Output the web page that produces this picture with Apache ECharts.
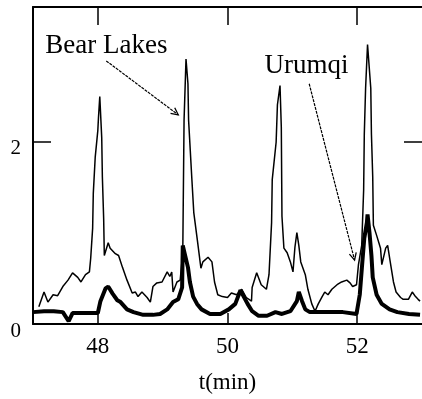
<!DOCTYPE html>
<html>
<head>
<meta charset="utf-8">
<script src="https://cdn.jsdelivr.net/npm/echarts@6/dist/echarts.min.js"></script>
<style>
  html, body { margin: 0; padding: 0; background: #fff; }
  #chart { width: 422px; height: 399px; }
</style>
</head>
<body>
<div id="chart"></div>
<script>
// time axis (min) and signal values
const bearT = [47.09,47.17,47.23,47.31,47.38,47.46,47.54,47.61,47.64,47.69,
  47.74,47.81,47.87,47.89,47.92,47.93,47.96,48.00,48.01,48.03,
  48.06,48.07,48.09,48.10,48.12,48.16,48.19,48.27,48.32,48.38,
  48.45,48.53,48.58,48.62,48.68,48.76,48.81,48.85,48.91,48.99,
  49.07,49.11,49.14,49.16,49.22,49.27,49.31,49.33,49.36,49.39,
  49.40,49.45,49.48,49.54,49.59,49.62,49.70,49.76,49.80,49.85,
  49.92,50.00,50.06,50.14,50.22,50.29,50.37,50.38,50.45,50.52,
  50.60,50.64,50.68,50.69,50.75,50.77,50.81,50.83,50.84,50.87,
  50.92,50.97,51.01,51.04,51.07,51.10,51.13,51.20,51.24,51.30,
  51.35,51.40,51.46,51.50,51.55,51.61,51.69,51.76,51.84,51.89,
  51.93,51.99,52.02,52.07,52.10,52.11,52.13,52.16,52.21,52.22,
  52.24,52.25,52.30,52.36,52.38,52.44,52.47,52.51,52.56,52.60,
  52.67,52.71,52.79,52.85,52.90,52.94,52.97];
const bearV = [0.19,0.35,0.24,0.32,0.31,0.41,0.48,0.56,0.57,0.51,
  0.46,0.54,0.57,0.72,1.05,1.43,1.83,2.12,2.26,2.49,
  2.04,1.61,1.15,0.75,0.73,0.89,0.83,0.77,0.75,0.62,
  0.48,0.34,0.35,0.30,0.35,0.29,0.24,0.41,0.45,0.46,
  0.57,0.52,0.57,0.35,0.46,0.48,0.78,2.23,2.90,2.63,
  2.23,1.59,1.22,0.89,0.61,0.68,0.73,0.68,0.46,0.32,
  0.30,0.29,0.34,0.32,0.38,0.29,0.25,0.40,0.56,0.43,
  0.38,0.54,1.11,1.58,1.99,2.40,2.61,2.15,1.18,0.83,
  0.78,0.68,0.57,0.84,1.00,0.86,0.68,0.54,0.38,0.22,
  0.14,0.22,0.30,0.35,0.32,0.38,0.43,0.46,0.48,0.45,
  0.41,0.43,0.65,0.86,1.47,2.08,2.58,3.06,2.58,2.08,
  1.61,1.08,0.97,0.83,0.65,0.83,0.86,0.68,0.46,0.35,
  0.29,0.27,0.27,0.35,0.30,0.27,0.25];

const urumqiT = [47.00,47.17,47.32,47.46,47.55,47.61,48.00,48.04,48.12,48.16,
  48.23,48.30,48.35,48.45,48.55,48.70,48.85,48.96,49.07,49.16,
  49.24,49.30,49.31,49.34,49.39,49.42,49.47,49.53,49.60,49.73,
  49.89,50.02,50.12,50.20,50.25,50.31,50.38,50.48,50.61,50.74,
  50.84,50.97,51.07,51.10,51.15,51.20,51.27,51.78,51.99,52.04,
  52.08,52.11,52.15,52.16,52.19,52.22,52.24,52.30,52.38,52.50,
  52.62,52.80,52.97];
const urumqiV = [0.13,0.14,0.14,0.13,0.03,0.12,0.12,0.25,0.39,0.41,
  0.33,0.26,0.24,0.16,0.13,0.10,0.10,0.11,0.16,0.24,
  0.27,0.40,0.86,0.88,0.62,0.46,0.30,0.22,0.16,0.11,
  0.11,0.16,0.22,0.37,0.30,0.22,0.14,0.09,0.09,0.13,
  0.11,0.14,0.25,0.35,0.25,0.16,0.13,0.13,0.11,0.32,
  0.68,0.94,1.11,1.20,1.00,0.75,0.51,0.32,0.22,0.16,
  0.13,0.11,0.10];

const xTicks = [48, 50, 52];
const yTicks = [0, 2];

// annotation text + arrow (data coords)
const bearNote = { text: 'Bear Lakes', at: [47.19, 3.04], from: [48.13, 2.88], to: [49.24, 2.29] };
const urumqiNote = { text: 'Urumqi', at: [50.57, 2.83], from: [51.26, 2.63], to: [51.96, 0.70] };

const FONT = '"Liberation Serif", "Times New Roman", serif';
const BLACK = '#000';

const zip = (ts, vs) => ts.map((t, i) => [t, vs[i]]);

const chart = echarts.init(document.getElementById('chart'), null, { renderer: 'canvas' });

chart.setOption({
  animation: false,
  backgroundColor: '#fff',
  grid: { left: 33, right: 0, top: 7, bottom: 69 },
  xAxis: [
    {
      type: 'value', min: 47, max: 53, position: 'bottom',
      axisLine: { show: true, onZero: false, lineStyle: { color: BLACK, width: 2 } },
      axisTick: { show: true, inside: true, length: 11, customValues: xTicks, lineStyle: { color: BLACK, width: 1.5 } },
      axisLabel: { customValues: xTicks, color: BLACK, fontFamily: FONT, fontSize: 23, margin: 11 },
      splitLine: { show: false },
      name: 't(min)', nameLocation: 'middle', nameGap: 47,
      nameTextStyle: { color: BLACK, fontFamily: FONT, fontSize: 23 }
    },
    {
      type: 'value', min: 47, max: 53, position: 'top',
      axisLine: { show: true, onZero: false, lineStyle: { color: BLACK, width: 2 } },
      axisTick: { show: true, inside: true, length: 18, customValues: xTicks, lineStyle: { color: BLACK, width: 1.5 } },
      axisLabel: { show: false },
      splitLine: { show: false }
    }
  ],
  yAxis: [
    {
      type: 'value', min: 0, max: 3.47, position: 'left',
      axisLine: { show: true, onZero: false, lineStyle: { color: BLACK, width: 2 } },
      axisTick: { show: true, inside: true, length: 18, customValues: yTicks, lineStyle: { color: BLACK, width: 1.5 } },
      axisLabel: { customValues: yTicks, color: BLACK, fontFamily: FONT, fontSize: 21, margin: 12, verticalAlign: 'top', lineHeight: 14 },
      splitLine: { show: false }
    },
    {
      type: 'value', min: 0, max: 3.47, position: 'right',
      axisLine: { show: false },
      axisTick: { show: true, inside: true, length: 18, customValues: [2], lineStyle: { color: BLACK, width: 1.5 } },
      axisLabel: { show: false },
      splitLine: { show: false }
    }
  ],
  series: [
    {
      name: 'Bear Lakes', type: 'line', showSymbol: false,
      data: zip(bearT, bearV),
      lineStyle: { color: BLACK, width: 1.5 }
    },
    {
      name: 'Urumqi', type: 'line', showSymbol: false,
      data: zip(urumqiT, urumqiV),
      lineStyle: { color: BLACK, width: 4 }
    }
  ]
});

// annotations placed through the chart's own scales
function noteGraphics(note) {
  const px = p => chart.convertToPixel({ xAxisIndex: 0, yAxisIndex: 0 }, p);
  const t = px(note.at), a = px(note.from), b = px(note.to);
  const dx = b[0] - a[0], dy = b[1] - a[1];
  const len = Math.hypot(dx, dy), ux = dx / len, uy = dy / len;
  const back = 7, spread = 3.5;
  const bx = b[0] - ux * back, by = b[1] - uy * back;
  return [
    {
      type: 'text',
      style: { text: note.text, x: t[0], y: t[1], fill: BLACK, font: '27px ' + FONT, verticalAlign: 'middle', align: 'left' }
    },
    {
      type: 'line',
      shape: { x1: a[0], y1: a[1], x2: b[0], y2: b[1] },
      style: { stroke: BLACK, lineWidth: 1.2, lineDash: [3, 1] }
    },
    {
      type: 'polyline',
      shape: { points: [[bx - uy * spread, by + ux * spread], b, [bx + uy * spread, by - ux * spread]] },
      style: { stroke: BLACK, lineWidth: 1.3, fill: null }
    }
  ];
}

chart.setOption({ graphic: noteGraphics(bearNote).concat(noteGraphics(urumqiNote)) });
</script>
</body>
</html>
